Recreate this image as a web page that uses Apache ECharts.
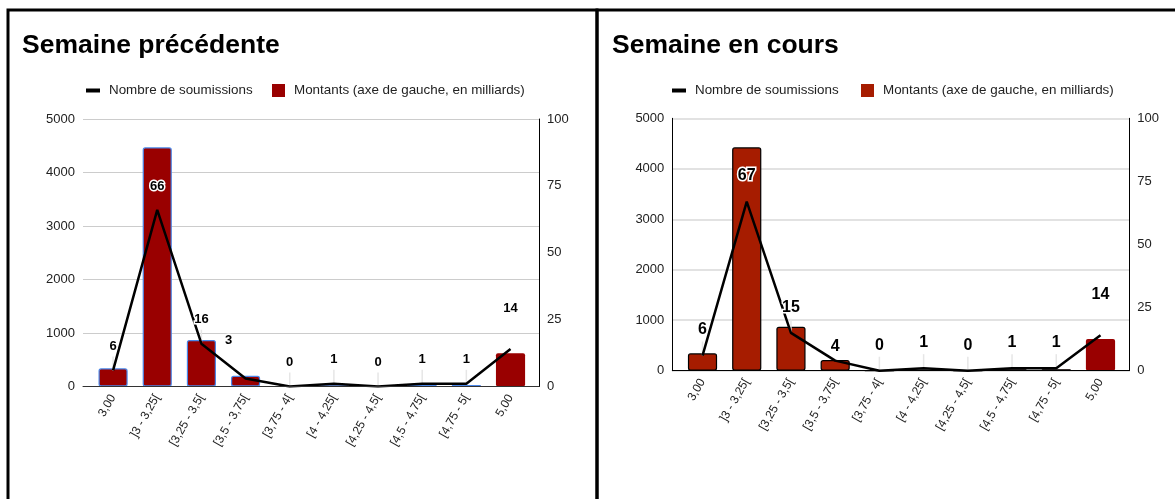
<!DOCTYPE html>
<html><head><meta charset="utf-8">
<script src="https://cdn.jsdelivr.net/npm/echarts@6/dist/echarts.min.js"></script>
<style>html,body{margin:0;padding:0;background:#fff;}#c{width:1175px;height:499px;}</style>
</head><body><div id="c"></div>
<script>
const categories = ['3,00', ']3 - 3,25[', '[3,25 - 3,5[', '[3,5 - 3,75[', '[3,75 - 4[', '[4 - 4,25[', '[4,25 - 4,5[', '[4,5 - 4,75[', '[4,75 - 5[', '5,00'];
const prevAmounts = [340, 4470, 870, 200, 0, 25, 0, 30, 30, 620];
const prevCounts = [6, 66, 16, 3, 0, 1, 0, 1, 1, 14];
const currAmounts = [345, 4425, 872, 212, 0, 25, 0, 30, 30, 628];
const currCounts = [6, 67, 15, 4, 0, 1, 0, 1, 1, 14];
const leftAxisMax = 5000, leftAxisStep = 1000;
const rightAxisMax = 100, rightAxisStep = 25;
const titles = ['Semaine précédente', 'Semaine en cours'];
const lineName = 'Nombre de soumissions';
const barName = 'Montants (axe de gauche, en milliards)';

const FONT = 'Arial, "Liberation Sans", sans-serif';
const LABEL_DIST = 17;
const panels = [
  { gA:{left:83, top:119, width:456, height:267.5}, gB:{left:91, top:119, width:441.6, height:267.5},
    titleLeft:22, legLine:86, legBar:272, barColor:'#990000', barBorder:'#4a86e8', lastColor:'#990000',
    leftAxisLine:false, xLineColor:'#333', gridColor:'#ccc', gridWidth:1, labelSize:13,
    amounts:prevAmounts, counts:prevCounts,
    offsets:{3:[-17,-14], 9:[0,-17]} },
  { gA:{left:672.3, top:118.3, width:457, height:252.4}, gB:{left:680.4, top:118.3, width:442.2, height:252.4},
    titleLeft:612, legLine:672, legBar:861, barColor:'#a61c00', barBorder:'#000', lastColor:'#990000',
    leftAxisLine:true, xLineColor:'#000', gridColor:'#d9d9d9', gridWidth:1.5, labelSize:16,
    amounts:currAmounts, counts:currCounts,
    offsets:{3:[0,11], 9:[0,-15]} }
];

const option = { animation:false, textStyle:{fontFamily:FONT},
  title:[], legend:[], grid:[], xAxis:[], yAxis:[], series:[],
  graphic:[
    {type:'rect', shape:{x:8, y:10, width:589, height:600}, style:{fill:'none', stroke:'#000', lineWidth:3}, silent:true},
    {type:'rect', shape:{x:597, y:10, width:700, height:600}, style:{fill:'none', stroke:'#000', lineWidth:3}, silent:true}
  ]
};

panels.forEach((p, i) => {
  option.title.push({text:titles[i], left:p.titleLeft, top:32, padding:0,
    textStyle:{fontFamily:FONT, fontSize:26.5, fontWeight:'bold', color:'#000'}});
  option.legend.push({left:p.legLine, top:84, padding:0, icon:'rect', itemWidth:14, itemHeight:4, itemGap:0,
    data:[{name:lineName, itemStyle:{color:'#000', opacity:1}}], selectedMode:false,
    textStyle:{fontFamily:FONT, fontSize:13.4, color:'#222', padding:[0,0,0,4]}});
  option.legend.push({left:p.legBar, top:84, padding:0, icon:'rect', itemWidth:13, itemHeight:13, itemGap:0,
    data:[{name:barName, itemStyle:{color:p.barColor, borderWidth:0}}], selectedMode:false,
    textStyle:{fontFamily:FONT, fontSize:13.4, color:'#222', padding:[0,0,0,4]}});
  option.grid.push(Object.assign({containLabel:false, outerBoundsMode:'none'}, p.gA));
  option.grid.push(Object.assign({containLabel:false, outerBoundsMode:'none'}, p.gB));
  const gA = i*2, gB = i*2+1;
  option.xAxis.push({type:'category', gridIndex:gA, data:categories, boundaryGap:true,
    axisLine:{show:true, lineStyle:{color:p.xLineColor, width:1}}, axisTick:{show:false}, axisLabel:{show:false}, splitLine:{show:false}, z:5});
  option.xAxis.push({type:'category', gridIndex:gB, data:categories, boundaryGap:true,
    axisLine:{show:false}, axisTick:{show:false}, splitLine:{show:false},
    axisLabel:{show:true, interval:0, rotate:60, margin:9, fontFamily:FONT, fontSize:12, color:'#222'}});
  option.yAxis.push({type:'value', gridIndex:gA, min:0, max:leftAxisMax, interval:leftAxisStep, position:'left',
    axisLine:{show:p.leftAxisLine, lineStyle:{color:'#000', width:1}}, axisTick:{show:false},
    axisLabel:{margin:8, fontFamily:FONT, fontSize:13, color:'#222', formatter:v => String(v)},
    splitLine:{show:true, lineStyle:{color:p.gridColor, width:p.gridWidth}}});
  option.yAxis.push({type:'value', gridIndex:gA, min:0, max:rightAxisMax, interval:rightAxisStep, position:'right',
    axisLine:{show:true, lineStyle:{color:'#000', width:1}}, axisTick:{show:false},
    axisLabel:{margin:8, fontFamily:FONT, fontSize:13, color:'#222', formatter:v => String(v)}, splitLine:{show:false}});
  option.yAxis.push({type:'value', gridIndex:gB, min:0, max:leftAxisMax, show:false, splitLine:{show:false}});
  option.yAxis.push({type:'value', gridIndex:gB, min:0, max:rightAxisMax, show:false, splitLine:{show:false}});
  const last = categories.length - 1;
  option.series.push({type:'bar', name:barName, xAxisIndex:gB, yAxisIndex:i*4+2, barWidth:'66%',
    color:p.barColor,
    itemStyle:{color:p.barColor, borderColor:p.barBorder, borderWidth:1.2, borderRadius:2},
    data:p.amounts.map((v, k) => k === last ? {value:v, itemStyle:{color:p.lastColor, borderWidth:0}} : v), z:2});
  // faint annotation stems from points to their labels (only where they sit on white)
  option.series.push({type:'custom', xAxisIndex:gB, yAxisIndex:i*4+3, silent:true, z:3,
    data:p.counts.map((v, k) => [k, v]),
    renderItem:(params, api) => {
      const k = api.value(0);
      if (k === 1 || p.offsets[k]) return null;
      const pt = api.coord([k, api.value(1)]);
      return {type:'line', shape:{x1:pt[0], y1:pt[1], x2:pt[0], y2:pt[1] - LABEL_DIST + 3},
        style:{stroke:'#e6e6e6', lineWidth:1.5}};
    }});
  option.series.push({type:'line', name:lineName, xAxisIndex:gB, yAxisIndex:i*4+3, color:'#000',
    symbol:'circle', symbolSize:1, showSymbol:true, showAllSymbol:true,
    itemStyle:{color:'rgba(0,0,0,0)', borderWidth:0},
    lineStyle:{color:'#000', width:2.5},
    label:{show:true, position:'top', distance:LABEL_DIST, fontFamily:FONT, fontWeight:'bold',
      fontSize:p.labelSize, color:'#000', textBorderColor:'#fff', textBorderWidth:3},
    data:p.counts.map((v, k) => p.offsets[k] ? {value:v, label:{offset:p.offsets[k]}} : v), z:4});
});

const chart = echarts.init(document.getElementById('c'), null, {renderer:'canvas'});
chart.setOption(option);
</script></body></html>
